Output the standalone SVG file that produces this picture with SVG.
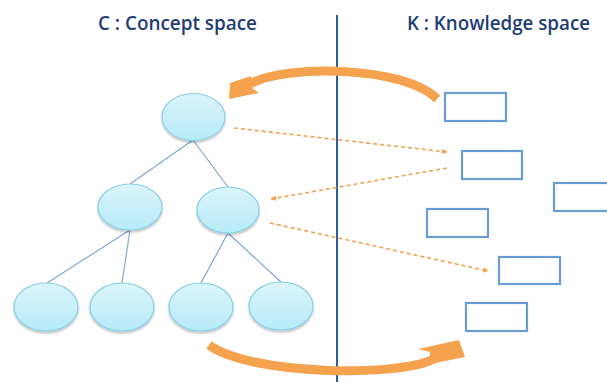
<svg xmlns="http://www.w3.org/2000/svg" width="607" height="382" viewBox="0 0 607 382">
<defs>
<linearGradient id="eg" x1="0" y1="0" x2="0" y2="1">
<stop offset="0" stop-color="#dcf4fb"/>
<stop offset="1" stop-color="#b6ebf8"/>
</linearGradient>
<filter id="sh" x="-20%" y="-20%" width="140%" height="150%">
<feGaussianBlur in="SourceAlpha" stdDeviation="1.2"/>
<feOffset dx="0" dy="2" result="b"/>
<feComponentTransfer><feFuncA type="linear" slope="0.25"/></feComponentTransfer>
<feMerge><feMergeNode/><feMergeNode in="SourceGraphic"/></feMerge>
</filter>
<marker id="ah" viewBox="0 0 10 10" refX="9" refY="5" markerWidth="5.5" markerHeight="5.5" orient="auto" markerUnits="userSpaceOnUse">
<path d="M0,0 L10,5 L0,10 z" fill="#f4a24e"/>
</marker>
<style>
.title{font-family:"Open Sans",Lato,sans-serif;font-weight:600;font-size:20px;fill:#1f3e75}
.ell{fill:url(#eg);stroke:#86cfe2;stroke-width:1.2;filter:url(#sh)}
.box{fill:#fff;stroke:#6a9bd2;stroke-width:2.2}
.tree{stroke:#7ea6d6;stroke-width:1.2;fill:none}
.dash{stroke:#f4a24e;stroke-width:1.6;stroke-dasharray:4,3;fill:none;marker-end:url(#ah)}
.big{stroke:#f4a24e;stroke-width:9;fill:none}
.head{fill:#f4a24e}
</style>
</defs>
<rect width="607" height="382" fill="#fff"/>
<text class="title" x="98" y="30" textLength="159" lengthAdjust="spacingAndGlyphs">C : Concept space</text>
<text class="title" x="407" y="30" textLength="183" lengthAdjust="spacingAndGlyphs">K : Knowledge space</text>
<line x1="337" y1="15" x2="337" y2="382" stroke="#2d5b9b" stroke-width="2"/>
<g id="connectors">
<line class="tree" x1="193" y1="140" x2="130" y2="184"/>
<line class="tree" x1="193" y1="140" x2="228" y2="187"/>
<line class="tree" x1="130" y1="230" x2="47" y2="283"/>
<line class="tree" x1="130" y1="230" x2="122" y2="283"/>
<line class="tree" x1="228" y1="233" x2="201" y2="283"/>
<line class="tree" x1="228" y1="233" x2="281" y2="282"/>
<path class="dash" d="M234,128 L447,152"/>
<path class="dash" d="M447,168 L271,199"/>
<path class="dash" d="M270,223 L488,271"/>
<path class="big" d="M437,99 C405,66 285,64 250,84"/>
<polygon class="head" points="251,76 230,83 229,99 259,93 252,88"/>
<path class="big" d="M209,345 C250,375 400,378 436,358"/>
<polygon class="head" points="430,364 465,357 459,340 418,349 430,352"/>
</g>
<g id="c-root"><ellipse class="ell" cx="193.5" cy="117" rx="31.5" ry="23.5"/></g>
<g id="c-mid-left"><ellipse class="ell" cx="130" cy="207" rx="32" ry="23"/></g>
<g id="c-mid-right"><ellipse class="ell" cx="228" cy="210" rx="31" ry="23"/></g>
<g id="c-leaf-1"><ellipse class="ell" cx="46" cy="307" rx="32" ry="24"/></g>
<g id="c-leaf-2"><ellipse class="ell" cx="122" cy="307" rx="32" ry="24"/></g>
<g id="c-leaf-3"><ellipse class="ell" cx="201" cy="307" rx="32" ry="24"/></g>
<g id="c-leaf-4"><ellipse class="ell" cx="281" cy="306" rx="32" ry="24"/></g>
<g id="k-1"><rect class="box" x="445" y="93" width="61" height="28"/></g>
<g id="k-2"><rect class="box" x="462" y="151" width="60" height="28"/></g>
<g id="k-3"><rect class="box" x="554" y="183" width="60" height="28"/></g>
<g id="k-4"><rect class="box" x="427" y="209" width="61" height="28"/></g>
<g id="k-5"><rect class="box" x="499" y="257" width="61" height="27"/></g>
<g id="k-6"><rect class="box" x="466" y="303" width="61" height="28"/></g>
</svg>
